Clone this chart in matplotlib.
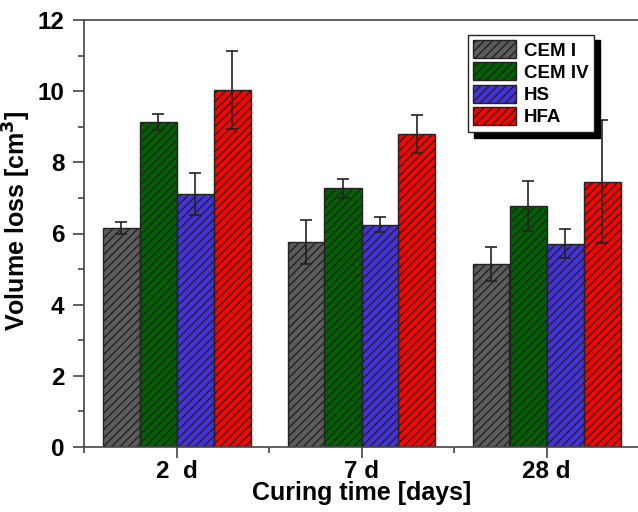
import matplotlib
matplotlib.use("Agg")
import matplotlib.pyplot as plt
import numpy as np
from matplotlib.ticker import MultipleLocator

plt.rcParams['font.family'] = ['Liberation Sans', 'DejaVu Sans']
plt.rcParams['font.weight'] = 'bold'
plt.rcParams['hatch.linewidth'] = 1.0
plt.rcParams['hatch.color'] = '#111111'

categories = ["2  d", "7 d", "28 d"]
series = ["CEM I", "CEM IV", "HS", "HFA"]
cem1 = [6.15, 5.76, 5.14]
cem1_err = [0.16, 0.62, 0.47]
cem4 = [9.14, 7.27, 6.77]
cem4_err = [0.23, 0.27, 0.70]
hs = [7.11, 6.25, 5.71]
hs_err = [0.60, 0.20, 0.41]
hfa = [10.03, 8.80, 7.45]
hfa_err = [1.09, 0.53, 1.73]

values = [cem1, cem4, hs, hfa]
errors = [cem1_err, cem4_err, hs_err, hfa_err]
colors = ["#5c5c5c", "#006100", "#4433dd", "#ff0000"]

fig = plt.figure(figsize=(6.38, 5.12), dpi=100)
ax = fig.add_axes([84/638, 65/512, 555/638, 427/512])

x = np.arange(1, len(categories) + 1)
width = 0.2
offsets = [-0.3, -0.1, 0.1, 0.3]
for vals, errs, col, name, off in zip(values, errors, colors, series, offsets):
    ax.bar(x + off, vals, width, color=col, edgecolor='#222222', linewidth=1.0,
           hatch='////', label=name, zorder=2)
    ax.errorbar(x + off, vals, yerr=errs, fmt='none', ecolor='#222222',
                elinewidth=1.2, capsize=4, capthick=1.2, zorder=3)

ax.set_xlim(0.5, 3.5)
ax.set_ylim(0, 12)
ax.set_xticks(x)
ax.set_xticklabels(categories, fontsize=17.5, fontweight='bold')
ax.set_xticks([0.5, 1.5, 2.5, 3.5], minor=True)
ax.yaxis.set_major_locator(MultipleLocator(2))
ax.yaxis.set_minor_locator(MultipleLocator(1))
ax.tick_params(axis='both', which='major', direction='out', length=8, width=1.2,
               color='#444444', pad=5)
ax.tick_params(axis='both', which='minor', direction='out', length=4, width=1.2,
               color='#444444')
ax.tick_params(axis='y', labelsize=17.5, pad=6)
ax.tick_params(axis='x', labelsize=17.5, pad=1)
ax.tick_params(top=False, right=False, which='both')
for lab in ax.get_yticklabels() + ax.get_xticklabels():
    lab.set_fontweight('bold')

for s in ['left', 'bottom', 'top']:
    ax.spines[s].set_color('#444444')
    ax.spines[s].set_linewidth(1.2)
ax.spines['right'].set_visible(False)

ax.set_ylabel("Volume loss [cm$^\\mathbf{3}$]", fontsize=18, fontweight='bold')
ax.yaxis.set_label_coords(-0.092, 0.53)
ax.set_xlabel("Curing time [days]", fontsize=18, fontweight='bold', labelpad=-1)

leg = ax.legend(loc='upper right', bbox_to_anchor=(0.919, 0.966), borderaxespad=0,
                prop={'weight': 'bold', 'size': 13.5},
                frameon=True, fancybox=False, edgecolor='#222222',
                shadow={'color': 'black', 'alpha': 1.0, 'ox': 4.3, 'oy': -4.3},
                handlelength=2.3, handleheight=1.1, labelspacing=0.15,
                handletextpad=0.4, borderpad=0.3)
leg.get_frame().set_linewidth(1.0)
leg.get_frame().set_alpha(1.0)

fig.savefig("out.png", dpi=100)
